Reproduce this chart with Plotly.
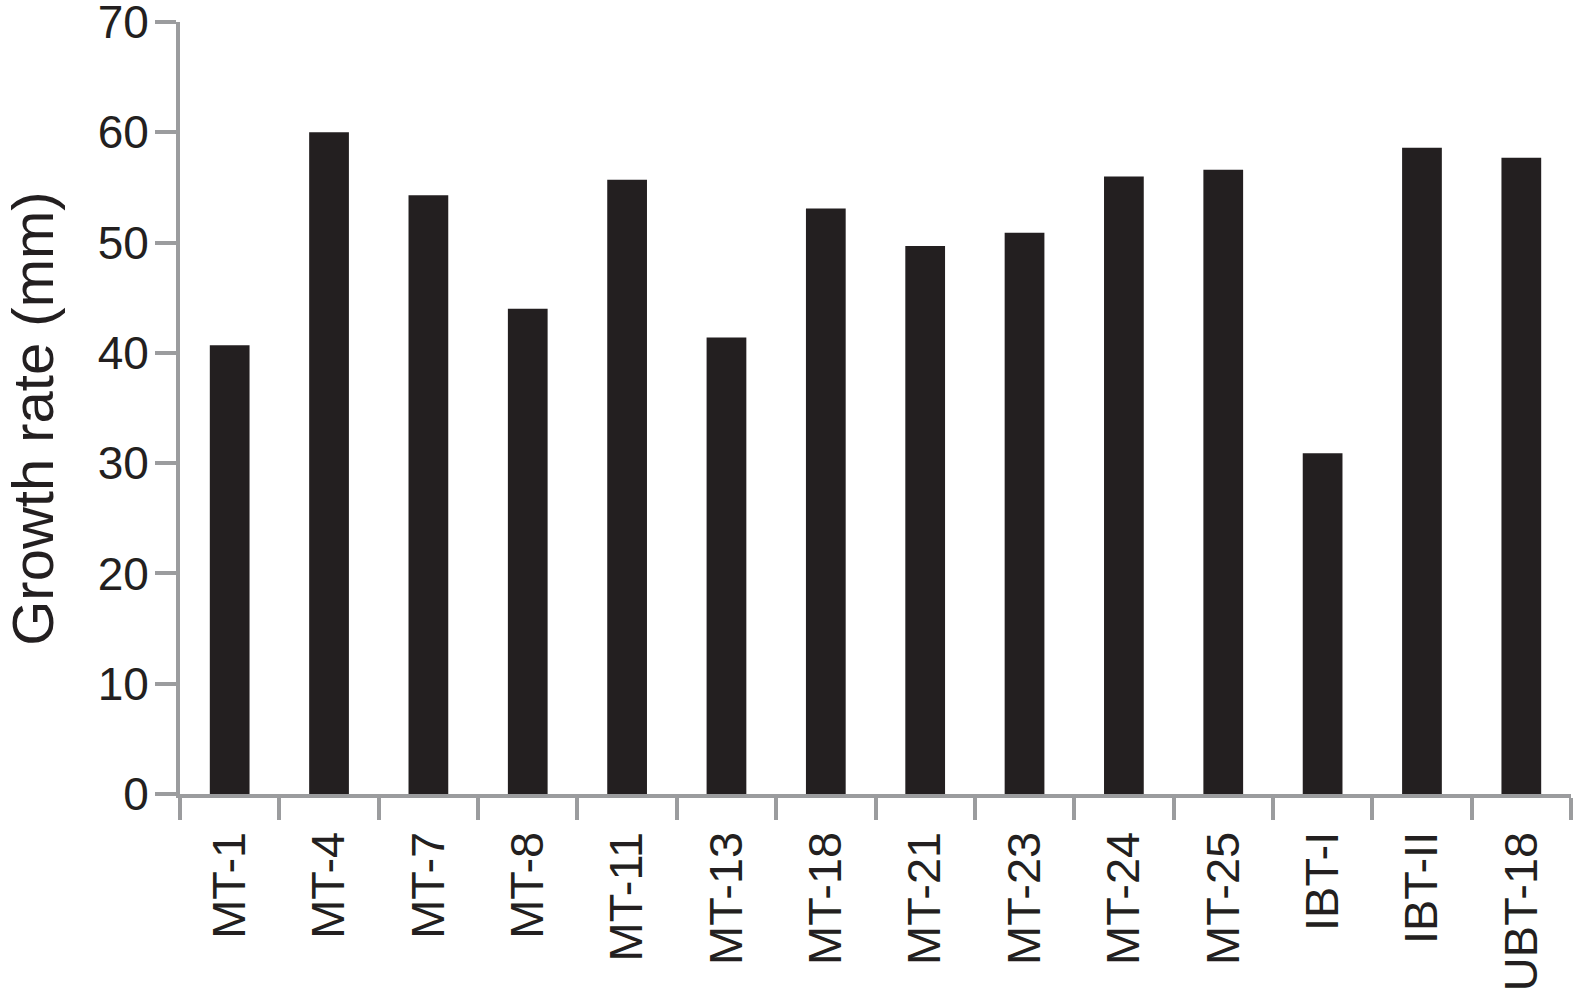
import plotly.graph_objects as go

categories = ["MT-1", "MT-4", "MT-7", "MT-8", "MT-11", "MT-13", "MT-18",
              "MT-21", "MT-23", "MT-24", "MT-25", "IBT-I", "IBT-II", "UBT-18"]
growth_rate = [40.7, 60.0, 54.3, 44.0, 55.7, 41.4, 53.1,
               49.7, 50.9, 56.0, 56.6, 30.9, 58.6, 57.7]
y_ticks = [0, 10, 20, 30, 40, 50, 60, 70]

AXIS = "#9b9c9e"
TXT = "#231f20"
FONT = "Liberation Sans, Arial, Helvetica, sans-serif"

fig = go.Figure(
    go.Bar(x=categories, y=growth_rate, marker=dict(color=TXT, line=dict(width=0)))
)

fig.update_layout(
    width=1574, height=995,
    margin=dict(l=180, r=3, t=22, b=201, autoexpand=False),
    plot_bgcolor="white", paper_bgcolor="white",
    bargap=0.6, showlegend=False,
    font=dict(family=FONT, color=TXT),
    annotations=[dict(
        text="Growth rate (mm)", textangle=-90, showarrow=False,
        xref="paper", yref="paper", x=-0.1305, y=0.486,
        xanchor="left", yanchor="middle",
        font=dict(size=58, family=FONT, color=TXT),
    )],
)

fig.update_xaxes(
    type="category", showline=True, linecolor=AXIS, linewidth=4,
    ticks="outside", tickson="boundaries", ticklen=22, tickwidth=4, tickcolor=AXIS,
    tickangle=-90, tickfont=dict(size=47, family=FONT, color=TXT),
    showgrid=False, zeroline=False, ticklabelstandoff=15, automargin=False,
    ticklabeloverflow="allow",
)

fig.update_yaxes(
    range=[0, 70], tickvals=y_ticks, showline=True, linecolor=AXIS, linewidth=4,
    ticks="outside", ticklen=21, tickwidth=4, tickcolor=AXIS,
    tickfont=dict(size=46, family=FONT, color=TXT),
    showgrid=False, zeroline=False, ticklabelstandoff=-3, automargin=False,
    ticklabeloverflow="allow",
)

fig.write_html("out.html", config={"displayModeBar": False},
               post_script="document.body.style.margin='0';")
